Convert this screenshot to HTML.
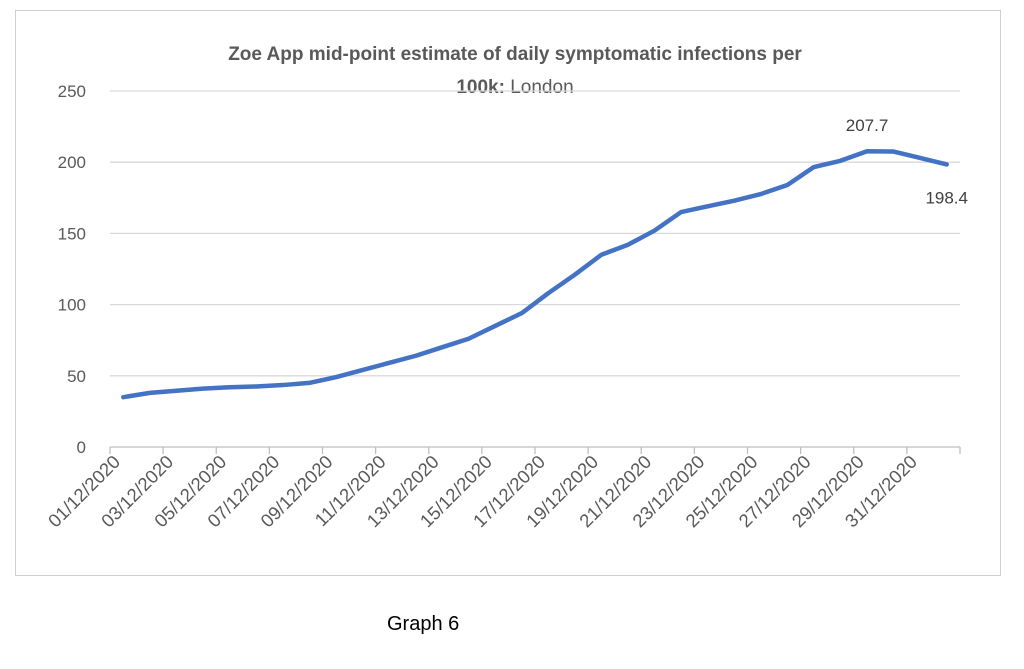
<!DOCTYPE html>
<html><head><meta charset="utf-8"><style>
body{margin:0;background:#fff;width:1024px;height:664px;overflow:hidden;font-family:"Liberation Sans",sans-serif}
</style></head><body>
<svg width="1024" height="664" id="svg">
<rect x="15.5" y="10.5" width="985" height="565" fill="#fff" stroke="#d0d0d0"/>
<text x="515" y="60" text-anchor="middle" font-size="19" font-weight="bold" fill="#595959">Zoe App mid-point estimate of daily symptomatic infections per</text>
<text x="515" y="93" text-anchor="middle" font-size="19" fill="#595959"><tspan font-weight="bold">100k:</tspan> London</text>
<g id="grid"></g><g id="xax"></g>
<path id="line" fill="none" stroke="#4472c4" stroke-width="4.5" stroke-linejoin="round" stroke-linecap="round"/>
<g id="lbl"></g>
<text x="387" y="630" font-size="20" fill="#000">Graph 6</text>
</svg>
<script>
const dates=["01/12/2020","02/12/2020","03/12/2020","04/12/2020","05/12/2020","06/12/2020","07/12/2020","08/12/2020","09/12/2020","10/12/2020","11/12/2020","12/12/2020","13/12/2020","14/12/2020","15/12/2020","16/12/2020","17/12/2020","18/12/2020","19/12/2020","20/12/2020","21/12/2020","22/12/2020","23/12/2020","24/12/2020","25/12/2020","26/12/2020","27/12/2020","28/12/2020","29/12/2020","30/12/2020","31/12/2020","01/01/2021"];
const values=[35,38,39.5,41,42,42.5,43.5,45,49,54,59,64,70,76,85,94,108,121,135,142,152,165,169,173,177.6,184,196.6,201,207.7,207.5,203,198.4];
const yTicks=[0,50,100,150,200,250];
const labelled=[28,31];
const NS="http://www.w3.org/2000/svg";
const x0=110,x1=960,yb=447,yt=91,ymax=250;
const cw=(x1-x0)/dates.length;
const X=i=>x0+cw*(i+0.5), Y=v=>yb-(v/ymax)*(yb-yt);
const mk=(t,a,p)=>{const e=document.createElementNS(NS,t);for(const k in a)e.setAttribute(k,a[k]);p.appendChild(e);return e;};
const g=document.getElementById('grid');
yTicks.forEach(v=>{
 const l=mk('line',{x1:x0,x2:x1,y1:Y(v),y2:Y(v),stroke:v===0?'#bfbfbf':'#d9d9d9','stroke-width':1.3},g);
 
 
 const t=mk('text',{x:86,y:Y(v)+6,'text-anchor':'end','font-size':17,fill:'#595959'},g);
 t.textContent=v;
 
 
});
const xa=document.getElementById('xax');
for(let i=0;i<=dates.length;i+=2){
 const tk=mk('line',{x1:x0+cw*i,x2:x0+cw*i,y1:yb,y2:yb+7,stroke:'#bfbfbf','stroke-width':1.3},xa);
 
 
}
dates.forEach((d,i)=>{
 if(i%2)return;
 const x=X(i)-2,y=yb+16;
 const t=mk('text',{x:x,y:y,'text-anchor':'end','font-size':18.5,fill:'#595959',transform:`rotate(-45 ${x} ${y})`},xa);
 t.textContent=d;
 
 
});
document.getElementById('line').setAttribute('d',values.map((v,i)=>(i?'L':'M')+X(i)+' '+Y(v)).join(' '));
const lb=document.getElementById('lbl');
labelled.forEach((i,k)=>{
 const t=mk('text',{x:X(i),y:k===0?Y(values[i])-20:Y(values[i])+39,'text-anchor':'middle','font-size':17,fill:'#404040'},lb);
 t.textContent=values[i];
 
 
});
</script>
</body></html>
